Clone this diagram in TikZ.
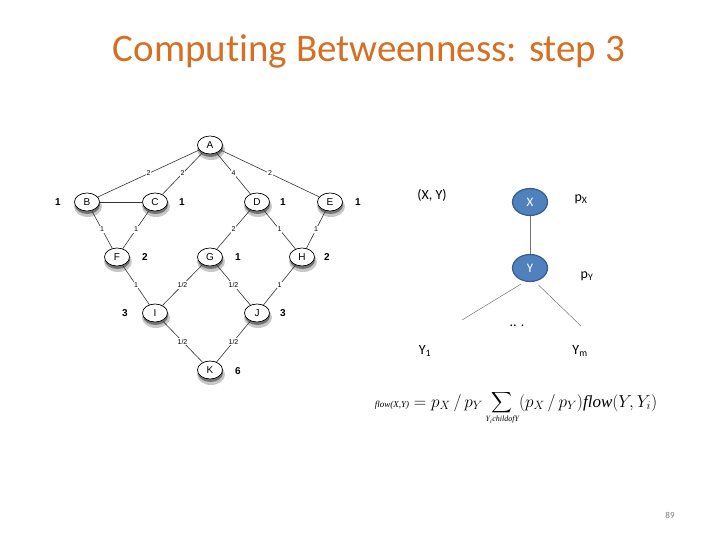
\documentclass[tikz,border=0pt]{standalone}
\usepackage{fontspec}
\usepackage{graphicx}
\setmainfont[Ligatures=NoCommon]{Carlito}
\newfontfamily\arialfont{Liberation Sans}
\newfontfamily\timesfont{Liberation Serif}
\usetikzlibrary{shapes.geometric}
\definecolor{titleorange}{RGB}{214,110,36}
\definecolor{nodeblue}{RGB}{79,129,189}
\definecolor{nodeborder}{RGB}{56,93,138}
\definecolor{pagegray}{RGB}{120,120,120}
\tikzset{
  gnode/.style={ellipse, draw=black, line width=0.7pt, fill=white,
    minimum width=25pt, minimum height=18pt, inner sep=0pt,
    font=\arialfont\fontsize{10}{11}\selectfont},
  gshadowout/.style={fill=black!22},
  gshadowin/.style={fill=black!55},
  gnum/.style={font=\arialfont\bfseries\fontsize{10}{11}\selectfont},
  edgelab/.style={font=\arialfont\fontsize{7}{8}\selectfont, fill=white, inner sep=1pt},
  gedge/.style={draw=black!80, line width=0.6pt},
  bnode/.style={ellipse, draw=nodeborder, line width=1.2pt, fill=nodeblue,
    minimum width=35pt, minimum height=27pt, inner sep=0pt,
    text=white, font=\fontsize{13}{15}\selectfont},
  bedge/.style={draw=black!55, line width=0.5pt},
  rlab/.style={font=\fontsize{14}{16}\selectfont}
}
\newcommand{\fl}{\textit{\timesfont flow}}
\newcommand{\bigsum}{\mathop{\vcenter{\hbox{\scalebox{1.45}{$\displaystyle\sum$}}}}}
\begin{document}
\begin{tikzpicture}[x=1pt,y=-1pt]
\useasboundingbox (0,0) rectangle (720,540);
% title
\node[text=titleorange, font=\fontsize{39}{46}\selectfont] (title) at (369,51) {Computing Betweenness: step 3};
% node shadows (drawn first, below everything)
\foreach \px/\py in {210/145, 87/202, 155/202, 257/202, 330/202, 117/257, 210/257, 302/257, 155/313, 257/313, 210/370}{
  \fill[gshadowout] (\px+1,\py+4.5) ellipse (14 and 10.5);
  \fill[gshadowin] (\px+0.5,\py+3) ellipse (12.5 and 9);
}
% graph nodes
\node[gnode] (A) at (210,145) {A};
\node[gnode] (B) at (87,202) {B};
\node[gnode] (C) at (155,202) {C};
\node[gnode] (D) at (257,202) {D};
\node[gnode] (E) at (330,202) {E};
\node[gnode] (F) at (117,257) {F};
\node[gnode] (G) at (210,257) {G};
\node[gnode] (H) at (302,257) {H};
\node[gnode] (I) at (155,313) {I};
\node[gnode] (J) at (257,313) {J};
\node[gnode] (K) at (210,370) {K};
% edges
\draw[gedge] (A) -- node[edgelab]{2} (B);
\draw[gedge] (A) -- node[edgelab]{2} (C);
\draw[gedge] (A) -- node[edgelab]{4} (D);
\draw[gedge] (A) -- node[edgelab]{2} (E);
\draw[gedge] (B) -- (C);
\draw[gedge] (B) -- node[edgelab]{1} (F);
\draw[gedge] (C) -- node[edgelab]{1} (F);
\draw[gedge] (D) -- node[edgelab]{2} (G);
\draw[gedge] (D) -- node[edgelab]{1} (H);
\draw[gedge] (E) -- node[edgelab]{1} (H);
\draw[gedge] (F) -- node[edgelab]{1} (I);
\draw[gedge] (G) -- node[edgelab]{1/2} (I);
\draw[gedge] (G) -- node[edgelab]{1/2} (J);
\draw[gedge] (H) -- node[edgelab]{1} (J);
\draw[gedge] (I) -- node[edgelab]{1/2} (K);
\draw[gedge] (J) -- node[edgelab]{1/2} (K);
% node numbers
\node[gnum] (nB) at (58,202) {1};
\node[gnum] (nC) at (182,202) {1};
\node[gnum] (nD) at (283,202) {1};
\node[gnum] (nE) at (358,202) {1};
\node[gnum] (nF) at (145,257) {2};
\node[gnum] (nG) at (238,257) {1};
\node[gnum] (nH) at (327,257) {2};
\node[gnum] (nI) at (125,313) {3};
\node[gnum] (nJ) at (283,313) {3};
\node[gnum] (nK) at (238,371) {6};
% right diagram
\node[bnode] (X) at (530,202) {X};
\node[bnode] (Y) at (530,268) {Y};
\draw[bedge] (X) -- (Y);
\coordinate (y1end) at (462,320);
\coordinate (ymend) at (581,326);
\draw[bedge, shorten <=5pt] (Y.250) -- (y1end);
\draw[bedge, shorten <=5pt] (Y.290) -- (ymend);
\node[rlab] (xy) at (432,195) {(X, Y)};
\node[rlab] (px) at (581,199) {p\textsubscript{X}};
\node[rlab] (py) at (587,276) {p\textsubscript{Y}};
\node[rlab] (dots) at (517,326) {.. .};
\node[rlab] (y1) at (425,351) {Y\textsubscript{1}};
\node[rlab] (ym) at (580,351) {Y\textsubscript{m}};
% formula
\node[font=\fontsize{17}{19}\selectfont, inner sep=0pt] (formula) at (516,408)
  {\mbox{\fontsize{9}{10}\selectfont\timesfont\itshape flow(X,Y)}$\displaystyle\; = p_X \,/\, p_Y \bigsum\limits_{\mbox{\fontsize{8}{9}\selectfont\timesfont\itshape Y\textsubscript{i}childofY}} (p_X \,/\, p_Y)\mbox{\fl}(Y,Y_i)$};
% page number
\node[text=pagegray, font=\fontsize{9}{10}\selectfont] (page) at (670,515) {89};
\end{tikzpicture}
\end{document}
